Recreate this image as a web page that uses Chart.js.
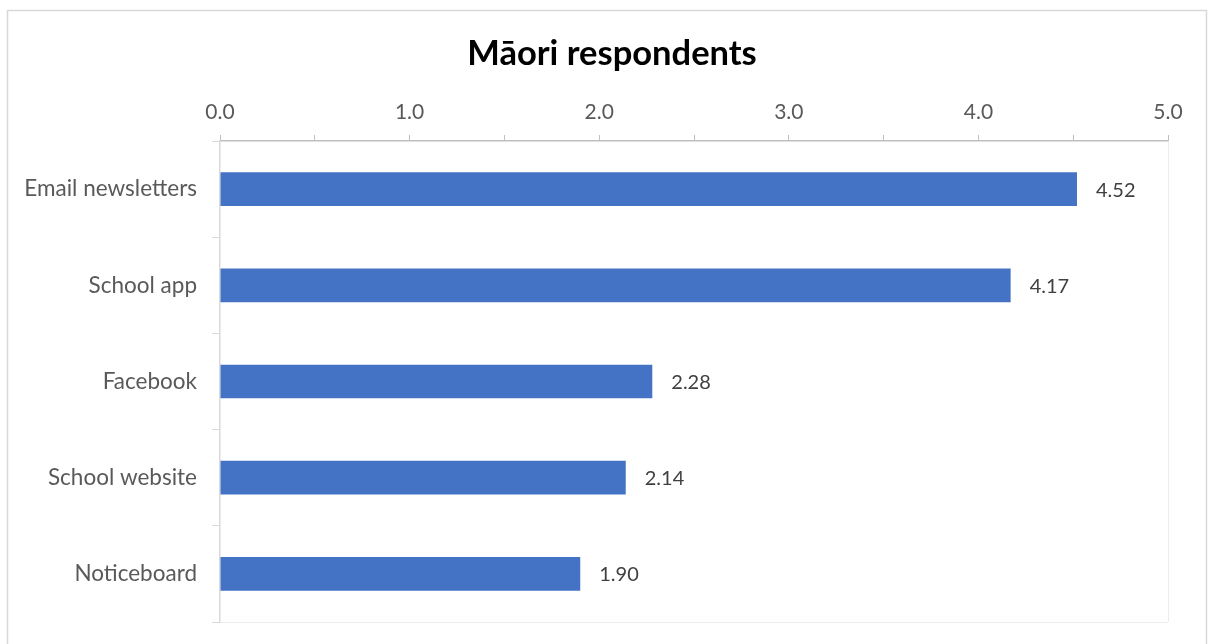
<!DOCTYPE html>
<html>
<head>
<meta charset="utf-8">
<script src="https://cdn.jsdelivr.net/npm/chart.js@4.4.1/dist/chart.umd.min.js"></script>
<style>
  html, body { margin: 0; padding: 0; background: #fff; }
  #wrap { width: 1214px; height: 644px; position: relative; }
</style>
</head>
<body>
<div id="wrap"><canvas id="chart" width="1214" height="644"></canvas></div>
<script>
// Data
const categories = ["Email newsletters", "School app", "Facebook", "School website", "Noticeboard"];
const values = [4.52, 4.17, 2.28, 2.14, 1.90];
const chartTitle = "Māori respondents";
const axisMin = 0;
const axisMax = 5;

const FONT = "Lato, 'Open Sans', sans-serif";

// Draws the outer frame, title, plot-area edges and the value labels
const decorations = {
    id: "decorations",
    beforeDraw(chart) {
        const ctx = chart.ctx;
        ctx.save();
        ctx.strokeStyle = "#d9d9d9";
        ctx.lineWidth = 1.5;
        ctx.strokeRect(7.5, 10.5, 1199, 640);
        ctx.fillStyle = "#000";
        ctx.font = "bold 34.5px " + FONT;
        ctx.textAlign = "center";
        ctx.textBaseline = "middle";
        ctx.fillText(chartTitle, 612, 54);
        ctx.restore();
    },
    afterDatasetsDraw(chart) {
        const ctx = chart.ctx;
        const area = chart.chartArea;
        ctx.save();
        ctx.strokeStyle = "#ececec";
        ctx.lineWidth = 1;
        ctx.beginPath();
        ctx.moveTo(area.right + 0.5, area.top);
        ctx.lineTo(area.right + 0.5, area.bottom);
        ctx.moveTo(area.left, area.bottom + 0.5);
        ctx.lineTo(area.right, area.bottom + 0.5);
        ctx.stroke();

        const meta = chart.getDatasetMeta(0);
        ctx.fillStyle = "#404040";
        ctx.font = "20px " + FONT;
        ctx.textAlign = "left";
        ctx.textBaseline = "middle";
        meta.data.forEach((bar, i) => {
            ctx.fillText(values[i].toFixed(2), bar.x + 19, bar.y + 1);
        });
        ctx.restore();
    },
};

new Chart(document.getElementById("chart"), {
    type: "bar",
    data: {
        labels: categories,
        datasets: [{
            data: values,
            backgroundColor: "#4472c4",
            borderWidth: 0,
            categoryPercentage: 0.7,
            barPercentage: 0.5,
        }],
    },
    options: {
        indexAxis: "y",
        responsive: false,
        animation: false,
        layout: { padding: { top: 79, left: 0, right: 46, bottom: 22 } },
        plugins: {
            legend: { display: false },
            tooltip: { enabled: false },
            title: { display: false },
        },
        scales: {
            x: {
                position: "top",
                min: axisMin,
                max: axisMax,
                ticks: {
                    stepSize: 0.5,
                    autoSkip: false,
                    maxRotation: 0,
                    color: "#595959",
                    font: { family: FONT, size: 21 },
                    padding: 10,
                    callback: (v) => (Math.abs(v % 1) < 1e-9 ? Number(v).toFixed(1) : ""),
                },
                grid: {
                    drawOnChartArea: false,
                    drawTicks: true,
                    tickLength: 6,
                    color: "#bfbfbf",
                },
                border: { color: "#bfbfbf", width: 1.5 },
                afterFit(scale) { scale.height = 62; },
            },
            y: {
                ticks: {
                    color: "#595959",
                    font: { family: FONT, size: 22.5 },
                    padding: 15,
                },
                grid: {
                    drawOnChartArea: false,
                    drawTicks: true,
                    tickLength: 8,
                    offset: true,
                    color: "#d9d9d9",
                },
                border: { color: "#d9d9d9", width: 1.5 },
                afterFit(scale) {
                    scale.width = 220;
                    scale.paddingTop = 0;
                    scale.paddingBottom = 0;
                },
            },
        },
    },
    plugins: [decorations],
});
</script>
</body>
</html>
